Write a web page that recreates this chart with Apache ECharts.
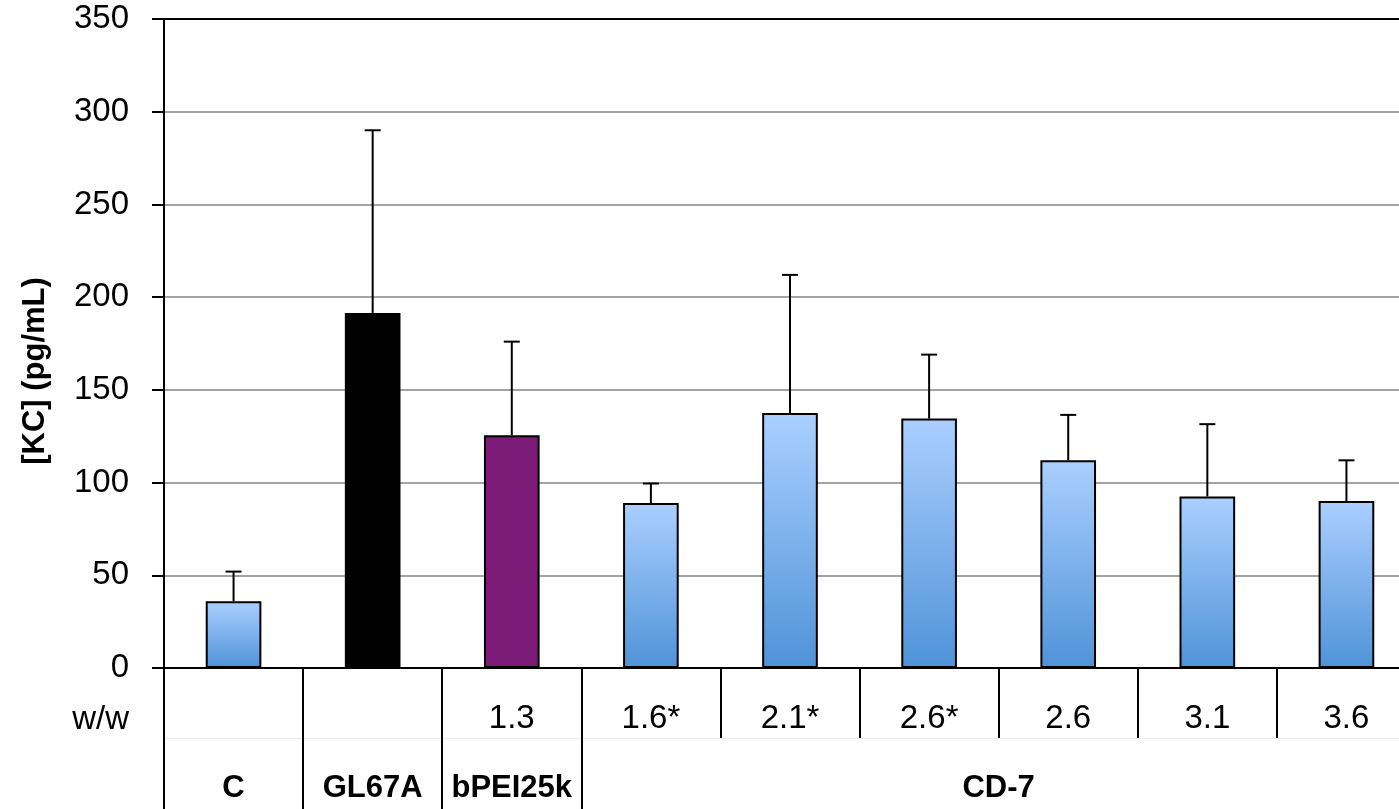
<!DOCTYPE html>
<html>
<head>
<meta charset="utf-8">
<script src="https://cdn.jsdelivr.net/npm/echarts@6/dist/echarts.min.js"></script>
<style>
html,body{margin:0;padding:0;background:#fff;overflow:hidden;width:1399px;height:809px;}
#chart{width:1416px;height:809px;}
</style>
</head>
<body>
<div id="chart"></div>
<script>
const categories = ['C', 'GL67A', 'bPEI25k', 'CD-7 1.6*', 'CD-7 2.1*', 'CD-7 2.6*', 'CD-7 2.6', 'CD-7 3.1', 'CD-7 3.6'];
const wwLabels = ['', '', '1.3', '1.6*', '2.1*', '2.6*', '2.6', '3.1', '3.6'];
const groupLabels = ['C', 'GL67A', 'bPEI25k', '', '', 'CD-7', '', '', ''];
const means = [36, 191.5, 125.5, 89, 137.5, 134.5, 112, 92.5, 90];
const errorTops = [52, 290, 176, 99.5, 212, 169, 136.5, 131.5, 112];
const barKinds = ['blue', 'black', 'purple', 'blue', 'blue', 'blue', 'blue', 'blue', 'blue'];
const yTickMin = 0, yTickMax = 350, yTickStep = 50;

const FONT = "'Liberation Sans', Arial, sans-serif";
const blueGrad = new echarts.graphic.LinearGradient(0, 0, 0, 1, [
  { offset: 0, color: '#abcfff' },
  { offset: 1, color: '#4f93d8' }
]);
const kindColor = { blue: blueGrad, black: '#000000', purple: '#7b1a77' };

const chart = echarts.init(document.getElementById('chart'));
const gridColors = [];
for (let v = yTickMin; v < yTickMax; v += yTickStep) gridColors.push('#a3a3a3');
gridColors.push('#000000');

chart.setOption({
  animation: false,
  backgroundColor: '#ffffff',
  grid: { left: 164, top: 19, right: 0, bottom: 141, containLabel: false },
  xAxis: [
    {
      type: 'category',
      data: categories,
      position: 'bottom',
      axisLine: { show: true, lineStyle: { color: '#000', width: 2 } },
      axisTick: { show: true, length: 70, lineStyle: { color: '#000', width: 2 } },
      axisLabel: {
        interval: 0, margin: 34, fontFamily: FONT, fontSize: 33, color: '#000',
        formatter: (v, i) => wwLabels[i]
      },
      splitLine: { show: false }
    },
    {
      type: 'category',
      data: categories,
      position: 'bottom',
      offset: 70,
      axisLine: { show: true, lineStyle: { color: '#ececec', width: 1 } },
      axisTick: {
        show: true, length: 80, interval: (i) => i <= 3,
        lineStyle: { color: '#000', width: 2 }
      },
      axisLabel: {
        interval: 0, margin: 35, fontFamily: FONT, fontSize: 31, fontWeight: 'bold', color: '#000',
        formatter: (v, i) => i === 5 ? '{s|' + groupLabels[i] + '}' : groupLabels[i],
        rich: { s: { padding: [0, 0, 0, 139], fontFamily: FONT, fontSize: 31, fontWeight: 'bold', color: '#000' } }
      }
    }
  ],
  yAxis: {
    type: 'value',
    min: yTickMin, max: yTickMax, interval: yTickStep,
    axisLine: { show: true, lineStyle: { color: '#000', width: 2 } },
    axisTick: { show: true, inside: false, length: 12, lineStyle: { color: '#000', width: 2 } },
    axisLabel: { margin: 35, fontFamily: FONT, fontSize: 33, color: '#000' },
    splitLine: { show: true, lineStyle: { color: gridColors, width: 2 } }
  },
  graphic: [
    {
      type: 'text', x: 35, y: 371, rotation: Math.PI / 2,
      style: { text: '[KC] (pg/mL)', font: "bold 31px 'Liberation Sans', Arial, sans-serif", fill: '#000', textAlign: 'center', textVerticalAlign: 'middle' }
    },
    {
      type: 'text', x: 129, y: 720,
      style: { text: 'w/w', font: "33px 'Liberation Sans', Arial, sans-serif", fill: '#000', textAlign: 'right', textVerticalAlign: 'middle' }
    }
  ],
  series: [
    {
      type: 'bar',
      barWidth: '40%',
      data: means.map((m, i) => ({
        value: m,
        itemStyle: { color: kindColor[barKinds[i]], borderColor: '#000', borderWidth: 2 }
      }))
    },
    {
      type: 'custom',
      z: 3,
      data: means.map((m, i) => [i, m, errorTops[i]]),
      renderItem: function (params, api) {
        const p0 = api.coord([api.value(0), api.value(1)]);
        const p1 = api.coord([api.value(0), api.value(2)]);
        const half = 8;
        return {
          type: 'group',
          children: [
            { type: 'line', shape: { x1: p0[0], y1: p0[1], x2: p1[0], y2: p1[1] }, style: { stroke: '#000', lineWidth: 2 } },
            { type: 'line', shape: { x1: p1[0] - half, y1: p1[1], x2: p1[0] + half, y2: p1[1] }, style: { stroke: '#000', lineWidth: 2 } }
          ]
        };
      }
    }
  ]
});
</script>
</body>
</html>
